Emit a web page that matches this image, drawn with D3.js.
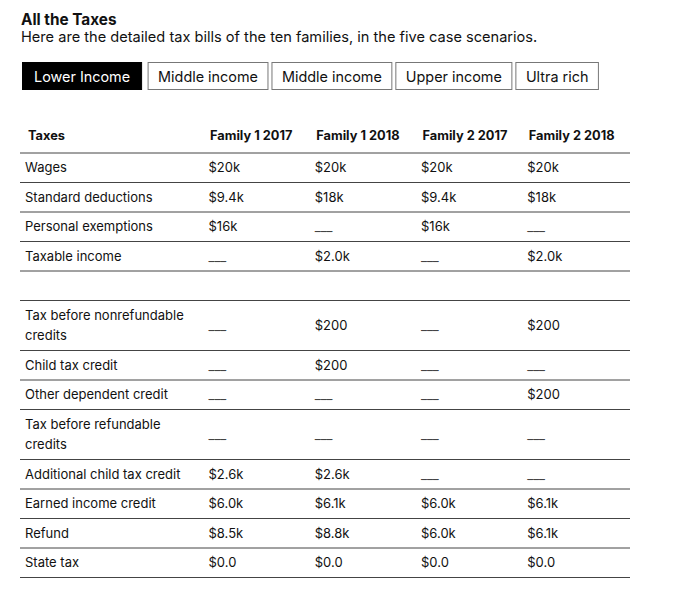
<!DOCTYPE html>
<html>
<head>
<meta charset="utf-8">
<script src="https://cdn.jsdelivr.net/npm/d3@7"></script>
<style>
  html, body { margin: 0; padding: 0; background: #fff; }
  svg { display: block; font-family: Inter, "Liberation Sans", Arial, sans-serif; }
</style>
</head>
<body>
<svg id="chart" width="680" height="594"></svg>
<script>
const title = "All the Taxes";
const subtitle = "Here are the detailed tax bills of the ten families, in the five case scenarios.";
const tabs = ["Lower Income", "Middle income", "Middle income", "Upper income", "Ultra rich"];
const activeTab = 0;
const headerLabel = "Taxes";
const columns = ["Family 1 2017", "Family 1 2018", "Family 2 2017", "Family 2 2018"];
// null marks a blank spacer row
const rowLabels = [
  ["Wages"],
  ["Standard deductions"],
  ["Personal exemptions"],
  ["Taxable income"],
  null,
  ["Tax before nonrefundable", "credits"],
  ["Child tax credit"],
  ["Other dependent credit"],
  ["Tax before refundable", "credits"],
  ["Additional child tax credit"],
  ["Earned income credit"],
  ["Refund"],
  ["State tax"]
];
// values per column, aligned with rowLabels; null = no value (shown as ___)
const family1_2017 = [20000, 9400, 16000, null, null, null, null, null, null, 2600, 6000, 8500, 0];
const family1_2018 = [20000, 18000, null, 2000, null, 200, 200, null, null, 2600, 6100, 8800, 0];
const family2_2017 = [20000, 9400, 16000, null, null, null, null, null, null, null, 6000, 6000, 0];
const family2_2018 = [20000, 18000, null, 2000, null, 200, null, 200, null, null, 6100, 6100, 0];
const columnValues = [family1_2017, family1_2018, family2_2017, family2_2018];

const svg = d3.select("#chart");
const fmt = d3.format("$.2s");
const textColor = "#111";

// Title
svg.append("text").attr("x", 21).attr("y", 25)
  .attr("font-size", 15.3).attr("font-weight", "bold").attr("fill", textColor).text(title);
svg.append("text").attr("x", 21).attr("y", 42)
  .attr("font-size", 14.6).attr("fill", textColor).text(subtitle);

// Tabs
let tx = 22.5;
const tabG = svg.append("g");
tabs.forEach((t, i) => {
  const g = tabG.append("g");
  const txt = g.append("text").attr("font-size", 14.4).attr("y", 81.5)
    .attr("fill", i === activeTab ? "#fff" : textColor).text(t);
  const pad = i === activeTab ? 11.5 : 10;
  const w = txt.node().getComputedTextLength() + 2 * pad;
  g.insert("rect", "text").attr("x", tx).attr("y", 62.5).attr("width", w).attr("height", 27)
    .attr("fill", i === activeTab ? "#000" : "#fff")
    .attr("stroke", i === activeTab ? "#000" : "#777").attr("stroke-width", 1);
  txt.attr("x", tx + pad);
  tx += w + (i === activeTab ? 6.5 : 4);
});

// Table geometry
const tableLeft = 20, tableRight = 630;
const x = d3.scaleBand().domain(columns).range([210, 635]).paddingInner(0);
const lineH = 29.5, extraLine = 20.5;
const rowHeights = rowLabels.map(r => r ? lineH + (r.length - 1) * extraLine : lineH);
const top0 = 153;
const rowTops = d3.cumsum([0, ...rowHeights]).map(v => top0 + v);
const y = d3.scaleOrdinal().domain(d3.range(rowLabels.length)).range(rowTops.slice(0, -1));

// Header
svg.append("text").attr("x", 28).attr("y", 139.5).attr("font-size", 12.8)
  .attr("font-weight", "bold").attr("fill", textColor).text(headerLabel);
svg.selectAll("text.colhead").data(columns).join("text").attr("class", "colhead")
  .attr("x", d => x(d)).attr("y", 139.5).attr("font-size", 12.8)
  .attr("font-weight", "bold").attr("fill", textColor).text(d => d);

// Row lines
svg.selectAll("line.rowline").data(rowTops).join("line").attr("class", "rowline")
  .attr("x1", tableLeft).attr("x2", tableRight)
  .attr("y1", d => d).attr("y2", d => d)
  .attr("stroke", "#444").attr("stroke-width", 1);

// Row labels and values
rowLabels.forEach((lab, i) => {
  if (!lab) return;
  const mid = y(i) + rowHeights[i] / 2;
  const startY = mid + 4.5 - (lab.length - 1) * extraLine / 2;
  lab.forEach((l, k) => {
    svg.append("text").attr("x", 25).attr("y", startY + k * extraLine)
      .attr("font-size", 13).attr("fill", textColor).text(l);
  });
  columns.forEach((c, ci) => {
    const v = columnValues[ci][i];
    svg.append("text").attr("x", x(c) - 1.5).attr("y", mid + 4.5)
      .attr("font-size", 13).attr("fill", v == null ? "#444" : textColor)
      .text(v == null ? "___" : fmt(v));
  });
});
</script>
</body>
</html>
